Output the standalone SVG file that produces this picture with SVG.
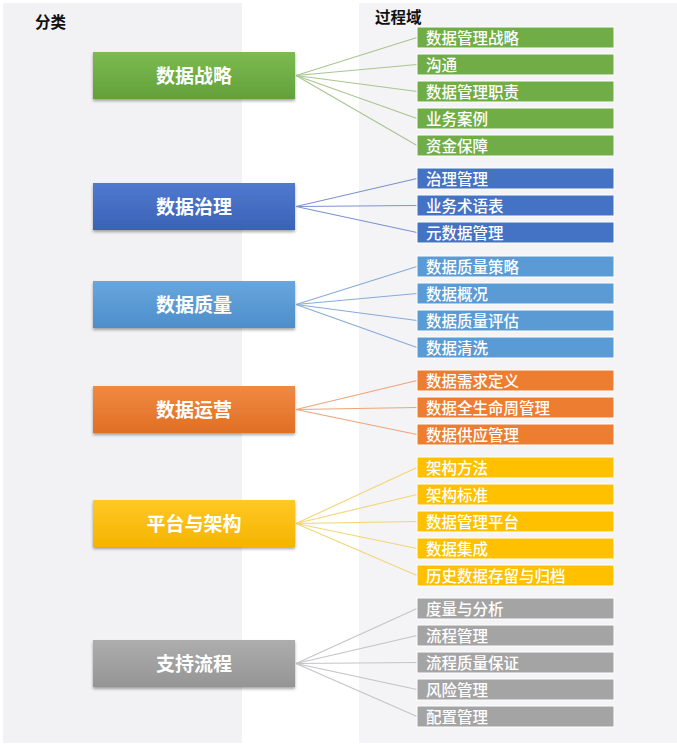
<svg xmlns="http://www.w3.org/2000/svg" width="677" height="746" viewBox="0 0 677 746">
<defs>
<style>
.hdr{font-family:"Noto Sans CJK SC","Liberation Sans",sans-serif;font-size:15.5px;font-weight:bold;fill:#111}
.cat{font-family:"Noto Sans CJK SC","Liberation Sans",sans-serif;font-size:19px;font-weight:bold;fill:#fff;text-anchor:middle;dominant-baseline:central}
.item{font-family:"Noto Sans CJK SC","Liberation Sans",sans-serif;font-size:15.5px;font-weight:500;fill:#fff;dominant-baseline:central}
.ib{stroke:#fff;stroke-width:1}
.c line{stroke-width:1.1;fill:none}
</style>
<filter id="sh" x="-10%" y="-20%" width="120%" height="150%">
<feDropShadow dx="0" dy="2" stdDeviation="1.8" flood-color="#000" flood-opacity="0.35"/>
</filter>
<linearGradient id="gG" x1="0" y1="0" x2="0" y2="1"><stop offset="0" stop-color="#7cbb52"/><stop offset="1" stop-color="#62a03a"/></linearGradient>
<linearGradient id="gB" x1="0" y1="0" x2="0" y2="1"><stop offset="0" stop-color="#5079cf"/><stop offset="1" stop-color="#3a62b6"/></linearGradient>
<linearGradient id="gL" x1="0" y1="0" x2="0" y2="1"><stop offset="0" stop-color="#68a6dd"/><stop offset="1" stop-color="#4d8ecb"/></linearGradient>
<linearGradient id="gO" x1="0" y1="0" x2="0" y2="1"><stop offset="0" stop-color="#f08a42"/><stop offset="1" stop-color="#e06f24"/></linearGradient>
<linearGradient id="gY" x1="0" y1="0" x2="0" y2="1"><stop offset="0" stop-color="#ffc825"/><stop offset="1" stop-color="#f5b400"/></linearGradient>
<linearGradient id="gA" x1="0" y1="0" x2="0" y2="1"><stop offset="0" stop-color="#adadad"/><stop offset="1" stop-color="#959595"/></linearGradient>
</defs>
<rect x="0" y="0" width="677" height="746" fill="#ffffff"/>
<rect x="3" y="3" width="239" height="740" fill="#f2f2f4"/>
<rect x="359" y="3" width="318" height="740" fill="#f4f3f5"/>
<text class="hdr" x="35" y="28">分类</text>
<text class="hdr" x="375" y="23">过程域</text>

<g class="c" id="connectors">
<g stroke="#a8c690">
<line x1="296" y1="75.5" x2="417" y2="37.5"/>
<line x1="296" y1="75.5" x2="417" y2="64.5"/>
<line x1="296" y1="75.5" x2="417" y2="91.5"/>
<line x1="296" y1="75.5" x2="417" y2="118.5"/>
<line x1="296" y1="75.5" x2="417" y2="145.5"/>
</g>
<g stroke="#7d93cf">
<line x1="296" y1="206.5" x2="417" y2="178.5"/>
<line x1="296" y1="206.5" x2="417" y2="205.5"/>
<line x1="296" y1="206.5" x2="417" y2="232.5"/>
</g>
<g stroke="#86acd8">
<line x1="296" y1="304.5" x2="417" y2="266.5"/>
<line x1="296" y1="304.5" x2="417" y2="293.5"/>
<line x1="296" y1="304.5" x2="417" y2="320.5"/>
<line x1="296" y1="304.5" x2="417" y2="347.5"/>
</g>
<g stroke="#eea47a">
<line x1="296" y1="409.5" x2="417" y2="380.5"/>
<line x1="296" y1="409.5" x2="417" y2="407.5"/>
<line x1="296" y1="409.5" x2="417" y2="434.5"/>
</g>
<g stroke="#f2d576">
<line x1="296" y1="523.5" x2="417" y2="467.5"/>
<line x1="296" y1="523.5" x2="417" y2="494.5"/>
<line x1="296" y1="523.5" x2="417" y2="521.5"/>
<line x1="296" y1="523.5" x2="417" y2="548.5"/>
<line x1="296" y1="523.5" x2="417" y2="575.5"/>
</g>
<g stroke="#c4c4c8">
<line x1="296" y1="663.5" x2="417" y2="608.5"/>
<line x1="296" y1="663.5" x2="417" y2="635.5"/>
<line x1="296" y1="663.5" x2="417" y2="662.5"/>
<line x1="296" y1="663.5" x2="417" y2="689.5"/>
<line x1="296" y1="663.5" x2="417" y2="716.5"/>
</g>
</g>

<g id="cat-strategy"><rect x="93" y="52" width="202" height="47" fill="url(#gG)" filter="url(#sh)"/><text class="cat" x="194" y="74.5">数据战略</text></g>
<g id="cat-governance"><rect x="93" y="183" width="202" height="47" fill="url(#gB)" filter="url(#sh)"/><text class="cat" x="194" y="205.5">数据治理</text></g>
<g id="cat-quality"><rect x="93" y="281" width="202" height="47" fill="url(#gL)" filter="url(#sh)"/><text class="cat" x="194" y="303.5">数据质量</text></g>
<g id="cat-ops"><rect x="93" y="386" width="202" height="47" fill="url(#gO)" filter="url(#sh)"/><text class="cat" x="194" y="408.5">数据运营</text></g>
<g id="cat-platform"><rect x="93" y="500" width="202" height="47" fill="url(#gY)" filter="url(#sh)"/><text class="cat" x="194" y="522.5">平台与架构</text></g>
<g id="cat-support"><rect x="93" y="640" width="202" height="47" fill="url(#gA)" filter="url(#sh)"/><text class="cat" x="194" y="662.5">支持流程</text></g>

<g id="items-strategy" fill="#70ad47">
<g id="i1"><rect class="ib" x="417" y="27" width="197" height="21"/><text class="item" x="426" y="36.5">数据管理战略</text></g>
<g id="i2"><rect class="ib" x="417" y="54" width="197" height="21"/><text class="item" x="426" y="63.5">沟通</text></g>
<g id="i3"><rect class="ib" x="417" y="81" width="197" height="21"/><text class="item" x="426" y="90.5">数据管理职责</text></g>
<g id="i4"><rect class="ib" x="417" y="108" width="197" height="21"/><text class="item" x="426" y="117.5">业务案例</text></g>
<g id="i5"><rect class="ib" x="417" y="135" width="197" height="21"/><text class="item" x="426" y="144.5">资金保障</text></g>
</g>
<g id="items-governance" fill="#4472c4">
<g id="i6"><rect class="ib" x="417" y="168" width="197" height="21"/><text class="item" x="426" y="177.5">治理管理</text></g>
<g id="i7"><rect class="ib" x="417" y="195" width="197" height="21"/><text class="item" x="426" y="204.5">业务术语表</text></g>
<g id="i8"><rect class="ib" x="417" y="222" width="197" height="21"/><text class="item" x="426" y="231.5">元数据管理</text></g>
</g>
<g id="items-quality" fill="#5b9bd5">
<g id="i9"><rect class="ib" x="417" y="256" width="197" height="21"/><text class="item" x="426" y="265.5">数据质量策略</text></g>
<g id="i10"><rect class="ib" x="417" y="283" width="197" height="21"/><text class="item" x="426" y="292.5">数据概况</text></g>
<g id="i11"><rect class="ib" x="417" y="310" width="197" height="21"/><text class="item" x="426" y="319.5">数据质量评估</text></g>
<g id="i12"><rect class="ib" x="417" y="337" width="197" height="21"/><text class="item" x="426" y="346.5">数据清洗</text></g>
</g>
<g id="items-ops" fill="#ed7d31">
<g id="i13"><rect class="ib" x="417" y="370" width="197" height="21"/><text class="item" x="426" y="379.5">数据需求定义</text></g>
<g id="i14"><rect class="ib" x="417" y="397" width="197" height="21"/><text class="item" x="426" y="406.5">数据全生命周管理</text></g>
<g id="i15"><rect class="ib" x="417" y="424" width="197" height="21"/><text class="item" x="426" y="433.5">数据供应管理</text></g>
</g>
<g id="items-platform" fill="#ffc000">
<g id="i16"><rect class="ib" x="417" y="457" width="197" height="21"/><text class="item" x="426" y="466.5">架构方法</text></g>
<g id="i17"><rect class="ib" x="417" y="484" width="197" height="21"/><text class="item" x="426" y="493.5">架构标准</text></g>
<g id="i18"><rect class="ib" x="417" y="511" width="197" height="21"/><text class="item" x="426" y="520.5">数据管理平台</text></g>
<g id="i19"><rect class="ib" x="417" y="538" width="197" height="21"/><text class="item" x="426" y="547.5">数据集成</text></g>
<g id="i20"><rect class="ib" x="417" y="565" width="197" height="21"/><text class="item" x="426" y="574.5">历史数据存留与归档</text></g>
</g>
<g id="items-support" fill="#a5a4a5">
<g id="i21"><rect class="ib" x="417" y="598" width="197" height="21"/><text class="item" x="426" y="607.5">度量与分析</text></g>
<g id="i22"><rect class="ib" x="417" y="625" width="197" height="21"/><text class="item" x="426" y="634.5">流程管理</text></g>
<g id="i23"><rect class="ib" x="417" y="652" width="197" height="21"/><text class="item" x="426" y="661.5">流程质量保证</text></g>
<g id="i24"><rect class="ib" x="417" y="679" width="197" height="21"/><text class="item" x="426" y="688.5">风险管理</text></g>
<g id="i25"><rect class="ib" x="417" y="706" width="197" height="21"/><text class="item" x="426" y="715.5">配置管理</text></g>
</g>
</svg>
